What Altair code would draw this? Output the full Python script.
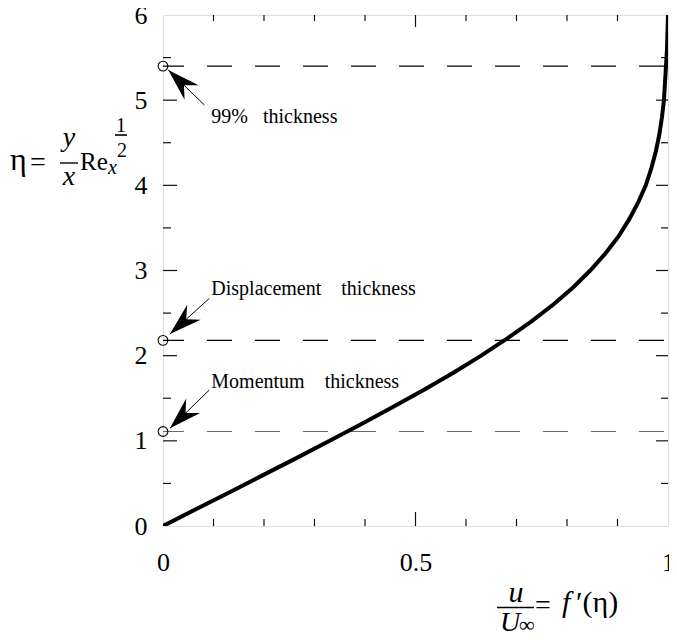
import math
import altair as alt
import pandas as pd

# ---------------- data ----------------
eta = [0.0, 0.2, 0.4, 0.6, 0.8, 1.0, 1.2, 1.4, 1.6, 1.8, 2.0, 2.2, 2.4, 2.6, 2.8,
       3.0, 3.2, 3.4, 3.6, 3.8, 4.0, 4.2, 4.4, 4.6, 4.8, 5.0, 5.2, 5.4, 5.6, 5.8, 6.0]
fprime = [0.0, 0.066, 0.133, 0.199, 0.265, 0.330, 0.394, 0.456, 0.517, 0.575, 0.630,
          0.681, 0.729, 0.773, 0.812, 0.846, 0.876, 0.902, 0.923, 0.941, 0.956, 0.967,
          0.976, 0.983, 0.988, 0.992, 0.994, 0.996, 0.998, 0.999, 1.0]

thick_names = ["99%", "Displacement", "Momentum"]
thick_values = [5.40, 2.18, 1.11]
thick_labels = ["99%\u00a0\u00a0\u00a0thickness",
                "Displacement\u00a0\u00a0\u00a0\u00a0thickness",
                "Momentum\u00a0\u00a0\u00a0\u00a0thickness"]
label_x = [0.0957, 0.0957, 0.0957]
label_y = [4.728, 2.712, 1.617]
arrow_tail_x = [0.082, 0.0918, 0.0918]
arrow_tail_y = [4.943, 2.673, 1.597]
arrow_tip_x = [0.0104, 0.0137, 0.0137]
arrow_tip_y = [5.354, 2.254, 1.147]

x_ticks = [0, 0.5, 1]
y_ticks = [0, 1, 2, 3, 4, 5, 6]
x_minor = [0.1, 0.2, 0.3, 0.4, 0.6, 0.7, 0.8, 0.9]
x_major = [0.5]
y_minor = [0.5, 1.5, 2.5, 3.5, 4.5, 5.5]
y_major = [1, 2, 3, 4, 5]

# ---------------- layout ----------------
W, H = 505, 511
PX_X = W / 1.0
PX_Y = H / 6.0
SERIF = "Liberation Serif, Times New Roman, Times, serif"

xs = alt.Scale(domain=[0, 1], nice=False, zero=False)
ys = alt.Scale(domain=[0, 6], nice=False, zero=False)
x_axis = alt.Axis(values=x_ticks, format="~g", title=None, domain=False, ticks=False,
                  tickSize=0, grid=False, labelFont=SERIF, labelFontSize=26,
                  labelColor="black", labelPadding=23, labelFlush=False)
y_axis = alt.Axis(values=y_ticks, format="d", title=None, domain=False, ticks=False,
                  tickSize=0, grid=False, labelFont=SERIF, labelFontSize=26,
                  labelColor="black", labelPadding=16)


def X(field):
    return alt.X(field, type="quantitative", scale=xs, axis=x_axis)


def Y(field):
    return alt.Y(field, type="quantitative", scale=ys, axis=y_axis)


curve_df = pd.DataFrame({"eta": eta, "f": fprime})
thick_df = pd.DataFrame({"name": thick_names, "eta": thick_values, "zero": [0.0] * 3})

ang = []
for tx, ty, hx, hy in zip(arrow_tail_x, arrow_tail_y, arrow_tip_x, arrow_tip_y):
    dx = (hx - tx) * PX_X
    dy = -(hy - ty) * PX_Y
    ang.append(math.degrees(math.atan2(dx, -dy)) % 360)
arrow_df = pd.DataFrame({"tx": arrow_tail_x, "ty": arrow_tail_y,
                         "hx": arrow_tip_x, "hy": arrow_tip_y, "ang": ang})
label_df = pd.DataFrame({"lx": label_x, "ly": label_y, "text": thick_labels})

color_scale = alt.Scale(domain=thick_names, range=["black", "black", "#6a6a6a"])

dashes = alt.Chart(thick_df).mark_rule(strokeDash=[25, 23], strokeDashOffset=44,
                                       strokeWidth=1.1).encode(
    y=Y("eta"),
    color=alt.Color("name:N", scale=color_scale, legend=None),
)

curve = alt.Chart(curve_df).mark_line(color="black", strokeWidth=4, clip=True).encode(
    x=X("f"), y=Y("eta"), order="eta:Q"
)

circles = alt.Chart(thick_df).mark_point(shape="circle", filled=False, size=95,
                                         color="black", strokeWidth=1.1,
                                         opacity=1).encode(
    x=X("zero"), y=Y("eta")
)

shafts = alt.Chart(arrow_df).mark_rule(color="black", strokeWidth=1).encode(
    x=X("tx"), y=Y("ty"), x2="hx", y2="hy"
)

head_path = "M0,0 L0.62,2 L0,1.35 L-0.62,2 Z"
heads = alt.Chart(arrow_df).mark_point(shape=head_path, filled=True, size=1050,
                                       color="black", opacity=1,
                                       strokeWidth=0).encode(
    x=X("hx"), y=Y("hy"), angle=alt.Angle("ang:Q", scale=None)
)

labels = alt.Chart(label_df).mark_text(font=SERIF, fontSize=20, align="left",
                                       baseline="alphabetic", color="black").encode(
    x=X("lx"), y=Y("ly"), text="text:N"
)


def tick_layer(values, pos_x=None, pos_y=None, length=7):
    df = pd.DataFrame({"v": values})
    if pos_y is not None:
        return alt.Chart(df).mark_tick(orient="vertical", size=2 * length, thickness=1.2,
                                       color="#111", clip=True, opacity=1).encode(
            x=X("v"), y=alt.datum(pos_y, scale=ys, axis=y_axis))
    return alt.Chart(df).mark_tick(orient="horizontal", size=2 * length, thickness=1.2,
                                   color="#111", clip=True, opacity=1).encode(
        y=Y("v"), x=alt.datum(pos_x, scale=xs, axis=x_axis))


ticks = [
    tick_layer(x_minor, pos_y=0, length=7), tick_layer(x_major, pos_y=0, length=14),
    tick_layer(x_minor, pos_y=6, length=6), tick_layer(x_major, pos_y=6, length=12),
    tick_layer(y_minor, pos_x=0, length=8), tick_layer(y_major, pos_x=0, length=14),
    tick_layer(y_minor, pos_x=1, length=7), tick_layer(y_major, pos_x=1, length=12),
]

# ---- axis titles built from text pieces (pixel positions relative to plot area) ----
OX, OY = 163, 15


def piece(s, px, py, size=28, italic=False, align="left"):
    return alt.Chart(pd.DataFrame({"t": [s]})).mark_text(
        font=SERIF, fontSize=size, fontStyle="italic" if italic else "normal",
        align=align, baseline="alphabetic", color="black").encode(
        x=alt.value(px - OX), y=alt.value(py - OY), text="t:N")


def bar(px1, px2, py, w=1.4):
    return alt.Chart(pd.DataFrame({"t": [0]})).mark_rule(color="black", strokeWidth=w).encode(
        x=alt.value(px1 - OX), x2=alt.value(px2 - OX), y=alt.value(py - OY))


title_pieces = [
    piece("η", 10, 170, 32), piece("=", 30, 171, 28),
    piece("y", 69, 146, 28, True, "center"), bar(60, 78, 163),
    piece("x", 69, 185, 28, True, "center"),
    piece("Re", 80, 170, 25), piece("x", 108, 174, 20, True),
    piece("1", 121, 132, 20, False, "center"), bar(115, 127, 135, 1.6),
    piece("2", 122, 157, 20, False, "center"),
    piece("u", 516, 602, 30, True, "center"), bar(497, 534, 607.5),
    piece("U", 500, 631, 28, True), piece("∞", 519, 632, 22),
    piece("=", 535, 614, 28),
    piece("f", 562, 612, 30, True), piece("′(η)", 576, 612, 30),
]

chart = alt.layer(dashes, curve, *ticks, circles, shafts, heads, labels,
                  *title_pieces).properties(
    width=W, height=H,
    autosize=alt.AutoSizeParams(type="none"),
    padding={"left": 155, "top": 7, "right": 1, "bottom": 110},
).configure_view(stroke="black", strokeWidth=1.5).configure(
    background="white"
).configure_axis(labelFont=SERIF, labelFontSize=26).configure_text(font=SERIF)

chart.save("out.html", embed_options={"renderer": "svg", "actions": False})
